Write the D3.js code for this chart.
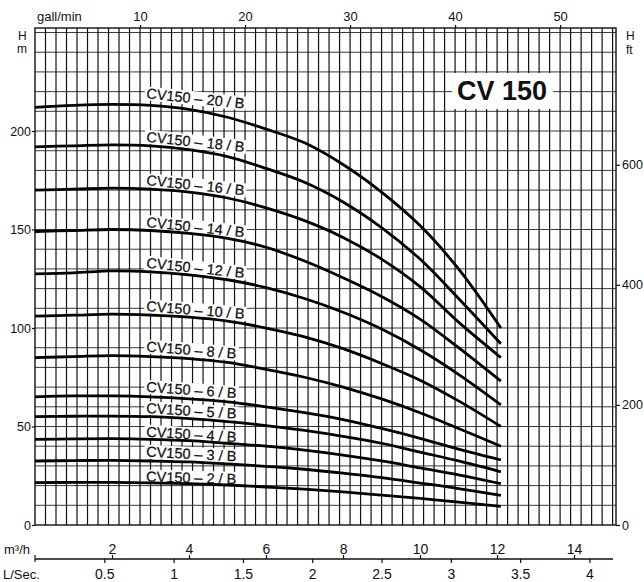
<!DOCTYPE html>
<html><head><meta charset="utf-8">
<script src="https://cdn.jsdelivr.net/npm/d3@7"></script>
<style>
body{margin:0;background:#fff}
svg{display:block}
text{font-family:"Liberation Sans",Arial,Helvetica,sans-serif;fill:#111}
</style>
</head><body>
<svg id="c" width="644" height="582"></svg>
<script>
// ---- data ----
const flowQ = [0, 1, 2, 3, 4, 5, 6, 7, 8, 9, 10, 11, 12.1]; // m3/h
const models = ["20", "18", "16", "14", "12", "10", "8", "6", "5", "4", "3", "2"];
const h20 = [212, 213, 213.5, 213, 211, 207, 201, 194, 183, 169, 152, 130, 100];
const h18 = [192, 192.5, 193, 192.5, 190.5, 187, 181, 174, 164, 151, 135, 115, 92];
const h16 = [170, 170.5, 171, 170.5, 169, 166, 161, 154.5, 146, 135, 121, 103, 85];
const h14 = [149, 149.5, 150, 149.5, 148, 145.5, 141, 134, 125.5, 116, 104.5, 90, 73];
const h12 = [127.5, 128, 129, 128.5, 127, 124.5, 120.5, 115, 108, 99.5, 89, 76.5, 61];
const h10 = [106, 106.5, 107, 106.5, 105.5, 103.5, 100, 95.5, 89.5, 82, 73.5, 63, 50];
const h8  = [85, 85.5, 86, 85.5, 84.5, 82.5, 79, 75, 70, 64, 57, 49, 40];
const h6  = [65, 65.5, 65.5, 65, 64, 62.5, 60, 57, 53.5, 49, 44, 38.5, 33];
const h5  = [55, 55.2, 55.3, 55, 54, 52.5, 50.5, 48, 45, 41.5, 37, 32.5, 27];
const h4  = [43.5, 43.7, 43.8, 43.5, 42.8, 41.5, 40, 38, 35.5, 32.5, 29, 25.5, 21];
const h3  = [32.5, 32.7, 32.8, 32.5, 32, 31, 29.8, 28.3, 26.3, 24, 21.3, 18.5, 15];
const h2  = [21.5, 21.6, 21.6, 21.4, 21, 20.3, 19.3, 18.2, 16.8, 15.2, 13.5, 11.6, 9.5];
const seriesH = [h20, h18, h16, h14, h12, h10, h8, h6, h5, h4, h3, h2];

const gpmTicks = [10, 20, 30, 40, 50];
const mTicks = [0, 50, 100, 150, 200];
const ftTicks = [0, 200, 400, 600];
const m3hTicks = [2, 4, 6, 8, 10, 12, 14];
const lsTicks = [0.5, 1, 1.5, 2, 2.5, 3, 3.5, 4];
const chartTitle = "CV 150";

// ---- styles / layout ----
const L = 35, R = 616, T = 28, B = 525;
const Qmax = 15.09, Hmax = 252.3;
const GPM = 0.27277, LS = 3.6, FT = 0.3048;
const labelAngle = [6, 6, 6, 6, 6, 4.5, 4.5, 4, 3.5, 3.5, 3, 1.5];
const labelLift  = [7, 4, 4, 3.5, 4, 4, 5, 5, 3.6, 2.6, 4.3, 1.2];
const labelX = 146;
const plain = d => String(d);

const svg = d3.select("#c");
const x = d3.scaleLinear().domain([0, Qmax]).range([L, R]);
const xG = d3.scaleLinear().domain([0, Qmax / GPM]).range([L, R]);
const xL = d3.scaleLinear().domain([0, Qmax / LS]).range([L, R]);
const y = d3.scaleLinear().domain([0, Hmax]).range([B, T]);
const yF = d3.scaleLinear().domain([0, Hmax / FT]).range([B, T]);

// grid
const g = svg.append("g");
g.selectAll(".hg").data(d3.range(10, 251, 10)).join("line")
  .attr("x1", L).attr("x2", R).attr("y1", d => y(d)).attr("y2", d => y(d))
  .attr("stroke", "#3a3a3a").attr("stroke-width", 1);
g.selectAll(".vg").data(d3.range(1, 56).filter(v => xG(v) < R - 1)).join("line")
  .attr("x1", d => xG(d)).attr("x2", d => xG(d)).attr("y1", T).attr("y2", B)
  .attr("stroke", "#111").attr("stroke-width", 1.2);
svg.append("rect").attr("x", L).attr("y", T).attr("width", R - L).attr("height", B - T)
  .attr("fill", "none").attr("stroke", "#111").attr("stroke-width", 1.4);

// title box
const tb = svg.append("g");
tb.append("rect").attr("x", 452).attr("y", 73).attr("width", 101).attr("height", 36).attr("fill", "#fff");
tb.append("text").attr("x", 457).attr("y", 100).attr("font-size", 27).attr("font-weight", "bold")
  .text(chartTitle);

// curve label groups (boxes first)
const labels = models.map((m, i) => {
  const hAt = d3.scaleLinear().domain(flowQ).range(seriesH[i]);
  const q0 = x.invert(labelX);
  return {text: "CV150 – " + m + " / B", px: labelX, py: y(hAt(q0)) - labelLift[i], a: labelAngle[i]};
});
const lg = svg.append("g").selectAll("g").data(labels).join("g")
  .attr("transform", d => `translate(${d.px},${d.py}) rotate(${d.a})`);
const lt = lg.append("text").attr("font-size", 14.5).attr("stroke", "#111").attr("stroke-width", 0.25).text(d => d.text);
lt.each(function(d){ d.w = this.getComputedTextLength(); });
lg.insert("rect", "text").attr("x", -2).attr("y", -12).attr("width", d => d.w + 4).attr("height", 14)
  .attr("fill", "#fff");

// curves
const line = d3.line().x((d, j) => x(flowQ[j])).y(d => y(d)).curve(d3.curveCatmullRom.alpha(0.5));
svg.append("g").selectAll("path").data(seriesH).join("path")
  .attr("d", d => line(d)).attr("fill", "none").attr("stroke", "#000").attr("stroke-width", 2.8);
lg.raise();

// axes
function styleAxis(sel, fs) {
  sel.selectAll("text").attr("font-size", fs).style("font-family", "'Liberation Sans',Arial,sans-serif").attr("fill", "#111");
  sel.selectAll("line").attr("stroke", "#111").attr("stroke-width", 1.2);
}
const aTop = svg.append("g").attr("transform", `translate(0,${T})`)
  .call(d3.axisTop(xG).tickValues(gpmTicks).tickFormat(plain).tickSize(3).tickPadding(4));
aTop.select(".domain").remove(); styleAxis(aTop, 13);

const aLeft = svg.append("g").attr("transform", `translate(${L},0)`)
  .call(d3.axisLeft(y).tickValues(mTicks).tickFormat(plain).tickSize(3).tickPadding(1));
aLeft.select(".domain").remove(); styleAxis(aLeft, 12.5);

const aRight = svg.append("g").attr("transform", `translate(${R},0)`)
  .call(d3.axisRight(yF).tickValues(ftTicks).tickFormat(plain).tickSize(4).tickPadding(2));
aRight.select(".domain").remove(); styleAxis(aRight, 12.5);

const axY = 559;
const aM3 = svg.append("g").attr("transform", `translate(0,${axY})`)
  .call(d3.axisTop(x).tickValues(m3hTicks).tickFormat(plain).tickSize(4).tickPadding(1).tickSizeOuter(0));
aM3.select(".domain").attr("d", `M${L},0H${R - 3}`).attr("stroke", "#111").attr("stroke-width", 1.3);
styleAxis(aM3, 14);
const aLs = svg.append("g").attr("transform", `translate(0,${axY})`)
  .call(d3.axisBottom(xL).tickValues(lsTicks).tickFormat(plain).tickSize(4).tickPadding(6));
aLs.select(".domain").remove(); styleAxis(aLs, 14);
svg.append("line").attr("x1", L).attr("x2", L).attr("y1", axY - 4).attr("y2", axY + 3)
  .attr("stroke", "#111").attr("stroke-width", 1.2);

// axis titles
const t = svg.append("g");
t.append("text").attr("x", 37).attr("y", 21).attr("font-size", 13).text("gall/min");
t.append("text").attr("x", 18).attr("y", 40).attr("font-size", 12).text("H");
t.append("text").attr("x", 17).attr("y", 53).attr("font-size", 12).text("m");
t.append("text").attr("x", 626).attr("y", 40).attr("font-size", 12).text("H");
t.append("text").attr("x", 626).attr("y", 54).attr("font-size", 12).text("ft");
t.append("text").attr("x", 4).attr("y", 554).attr("font-size", 13).text("m³/h");
t.append("text").attr("x", 3).attr("y", 579).attr("font-size", 13).text("L/Sec.");
</script>
</body></html>
